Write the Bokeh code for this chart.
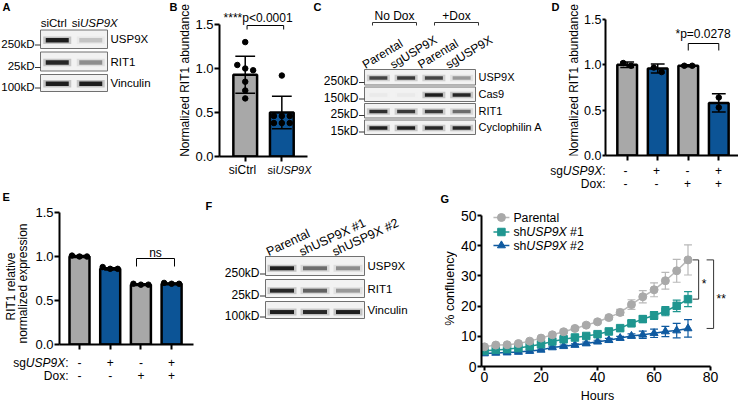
import math
from bokeh.plotting import figure
from bokeh.models import Range1d, FixedTicker, Label, PrintfTickFormatter
from bokeh.layouts import row, column
from bokeh.embed import file_html
from bokeh.resources import INLINE

# ---------------- data ----------------
A_lanes = ["siCtrl", "siUSP9X"]
A_proteins = ["USP9X", "RIT1", "Vinculin"]
A_mw = ["250kD", "25kD", "100kD"]
A_band_intensity = [[0.95, 0.18], [0.90, 0.40], [0.95, 0.95]]

B_groups = ["siCtrl", "siUSP9X"]
B_mean = [0.93, 0.50]
B_sd = [0.21, 0.185]
B_points = [[1.30, 1.04, 1.00, 0.98, 0.85, 0.75, 0.66],
            [0.92, 0.46, 0.46, 0.46, 0.38, 0.38, 0.38]]
B_stat = "****p<0.0001"

C_lanes = ["Parental", "sgUSP9X", "Parental", "sgUSP9X"]
C_conditions = ["No Dox", "+Dox"]
C_proteins = ["USP9X", "Cas9", "RIT1", "Cyclophilin A"]
C_mw = ["250kD", "150kD", "25kD", "15kD"]
C_band_intensity = [[0.75, 0.80, 0.75, 0.35], [0.03, 0.03, 0.95, 0.90],
                    [0.85, 0.80, 0.80, 0.55], [0.95, 0.95, 0.90, 0.90]]

D_sg = ["-", "+", "-", "+"]
D_dox = ["-", "-", "+", "+"]
D_mean = [1.00, 0.96, 0.99, 0.58]
D_sd = [0.03, 0.05, 0.01, 0.10]
D_points = [[0.99, 1.02], [0.97, 0.92], [0.99, 0.99], [0.64, 0.53]]
D_stat = "*p=0.0278"

E_sg = ["-", "+", "-", "+"]
E_dox = ["-", "-", "+", "+"]
E_mean = [1.00, 0.86, 0.68, 0.69]
E_sd = [0.01, 0.012, 0.01, 0.01]
E_points = [[1.00, 1.01, 1.00], [0.86, 0.88, 0.86], [0.68, 0.69, 0.68], [0.69, 0.70, 0.69]]
E_stat = "ns"

F_lanes = ["Parental", "shUSP9X #1", "shUSP9X #2"]
F_proteins = ["USP9X", "RIT1", "Vinculin"]
F_mw = ["250kD", "25kD", "100kD"]
F_band_intensity = [[0.95, 0.55, 0.40], [0.90, 0.60, 0.35], [0.95, 0.90, 0.95]]

G_hours = [0, 4, 8, 12, 16, 20, 24, 28, 32, 36, 40, 44, 48, 52, 56, 60, 64, 68, 72]
G_names = ["Parental", "shUSP9X #1", "shUSP9X #2"]
G_parental = [6.5, 7.1, 7.2, 7.6, 8.4, 9.4, 10.5, 11.5, 12.6, 13.7, 14.8, 16.2, 17.9, 20.5, 23.1, 25.4, 28.4, 31.7, 35.3]
G_parental_err = [0.4, 0.4, 0.4, 0.4, 0.5, 0.5, 0.5, 0.6, 0.6, 0.6, 0.6, 0.7, 1.0, 1.6, 2.0, 2.3, 2.8, 3.8, 5.0]
G_sh1 = [5.2, 5.5, 5.75, 6.1, 6.7, 7.4, 8.3, 9.0, 9.6, 10.1, 10.7, 11.6, 12.7, 14.3, 15.7, 16.9, 18.3, 20.1, 22.3]
G_sh1_err = [0.3, 0.3, 0.3, 0.3, 0.4, 0.4, 0.4, 0.5, 0.5, 0.5, 0.6, 0.6, 0.7, 0.8, 1.1, 1.3, 1.5, 1.9, 2.5]
G_sh2 = [4.3, 4.5, 4.6, 4.8, 5.1, 5.5, 6.3, 6.7, 7.1, 7.6, 8.2, 8.7, 9.4, 10.1, 10.5, 11.0, 11.6, 11.9, 12.6]
G_sh2_err = [0.3, 0.3, 0.3, 0.3, 0.3, 0.3, 0.4, 0.4, 0.4, 0.5, 0.5, 0.6, 0.6, 0.7, 1.2, 1.4, 1.7, 2.4, 2.9]
G_stats = ["*", "**"]

# ---------------- style ----------------
FONT = "Liberation Sans"
GRAY_BAR = "#a8a8a8"
BLUE_BAR = "#0c5496"
G_COLORS = ["#a9a9a9", "#1f9690", "#0f5aa0"]
G_LINE = ["#b8b8b8", "#1f9690", "#0f5aa0"]
G_MARK = ["circle", "square", "triangle"]

_W = {' ': 278, '!': 278, '#': 556, '%': 889, '*': 389, '+': 584, '-': 333,
      '.': 278, ':': 278, '<': 584, '=': 584}
for _c in "0123456789":
    _W[_c] = 556
_W.update(dict(zip("ABCDEFGHIJKLMNOPQRSTUVWXYZ",
                   [667, 667, 722, 722, 667, 611, 778, 722, 278, 500, 667, 556, 833,
                    722, 778, 667, 778, 722, 667, 611, 722, 667, 944, 667, 667, 611])))
_W.update(dict(zip("abcdefghijklmnopqrstuvwxyz",
                   [556, 556, 500, 556, 556, 278, 556, 556, 222, 222, 500, 222, 833,
                    556, 556, 556, 556, 333, 500, 278, 556, 500, 722, 500, 500, 500])))


def tw(s, size):
    return sum(_W.get(ch, 556) for ch in s) * size / 1000.0


def gene_pieces(s, gene="USP9X"):
    if gene not in s:
        return [(s, "normal")]
    a, b = s.split(gene, 1)
    out = []
    if a:
        out.append((a, "normal"))
    out.append((gene, "italic"))
    if b:
        out.append((b, "normal"))
    return out


def put_text(p, x, y, pieces, size, align="center", font=FONT, baseline="middle"):
    total = sum(tw(t, size) for t, _ in pieces)
    off = {"center": -total / 2.0, "right": -total, "left": 0.0}[align]
    for t, st in pieces:
        lead = len(t) - len(t.lstrip(" "))
        core = t.strip(" ")
        p.add_layout(Label(x=x, y=y, x_offset=off + tw(" " * lead, size), text=core,
                           text_font=font, text_font_size=f"{size}px", text_font_style=st,
                           text_align="left", text_baseline=baseline, text_color="black"))
        off += tw(t, size)


def rot_text(p, x, y, text, size, angle_deg, align="left", baseline="alphabetic"):
    p.add_layout(Label(x=x, y=y, text=text, angle=math.radians(angle_deg),
                       text_align=align, text_baseline=baseline, text_font=FONT,
                       text_font_size=f"{size}px", text_color="black"))


def swarm(vals, tol):
    order = sorted(range(len(vals)), key=lambda i: -vals[i])
    clusters = []
    for i in order:
        if clusters and abs(vals[clusters[-1][0]] - vals[i]) <= tol:
            clusters[-1].append(i)
        else:
            clusters.append([i])
    offs = [0.0] * len(vals)
    for c in clusters:
        n = len(c)
        for k, i in enumerate(c):
            offs[i] = k - (n - 1) / 2.0
    return offs


def ref_fig(x0, y0, w, h, mbb=0):
    """Figure whose frame maps reference pixel coordinates 1:1."""
    p = figure(width=w, height=h, x_range=Range1d(x0, x0 + w),
               y_range=Range1d(y0 + h - mbb, y0), x_axis_type=None, y_axis_type=None,
               output_backend="svg", toolbar_location=None, title=None,
               min_border_left=0, min_border_right=0, min_border_top=0, min_border_bottom=mbb)
    p.outline_line_color = None
    return p


def chart_panel(x0, y0, W, H, lw, ax_x, ax_y, mbb, xref, xval, ppx, ppy):
    hc = ax_y + mbb - y0
    L = ref_fig(x0, y0, lw, hc, mbb)
    cw = W - lw
    xs = xval + (ax_x - xref) / ppx
    xe = xval + (x0 + W - xref) / ppx
    ye = (ax_y - y0) / ppy
    C = figure(width=cw, height=hc, x_range=Range1d(xs, xe), y_range=Range1d(0, ye),
               output_backend="svg", toolbar_location=None, title=None,
               min_border_left=ax_x - (x0 + lw), min_border_right=0, min_border_top=0,
               min_border_bottom=mbb)
    C.outline_line_color = None
    C.xgrid.visible = False
    C.ygrid.visible = False
    S = ref_fig(x0, y0 + hc, W, H - hc)
    lay = column(row(L, C), S)

    def cx(rx):
        return xval + (rx - xref) / ppx

    def cy(ry):
        return (ax_y - ry) / ppy

    def rx(x):
        return xref + (x - xval) * ppx
    return L, C, S, lay, cx, cy, rx


def style_axes(p, xticks, yticks, xbounds, ybounds, ylab_size, tick_out=5,
               xlab_size=None, yfmt=None, ytick_out=None):
    xa = p.xaxis[0]
    ya = p.yaxis[0]
    for ax in (xa, ya):
        ax.axis_line_width = 2
        ax.axis_line_color = "black"
        ax.major_tick_line_width = 2
        ax.major_tick_line_color = "black"
        ax.major_tick_in = 0
        ax.major_tick_out = tick_out
        ax.minor_tick_line_color = None
        ax.major_label_text_font = FONT
        ax.major_label_text_color = "black"
        ax.major_label_standoff = 1
    if ytick_out is not None:
        ya.major_tick_out = ytick_out
    xa.ticker = FixedTicker(ticks=xticks)
    ya.ticker = FixedTicker(ticks=yticks)
    xa.bounds = xbounds
    ya.bounds = ybounds
    ya.major_label_text_font_size = ylab_size
    if yfmt:
        ya.formatter = PrintfTickFormatter(format=yfmt)
    if xlab_size is None:
        xa.major_label_text_font_size = "1px"
        xa.major_label_text_color = None
        xa.major_label_standoff = 0
    else:
        xa.major_label_text_font_size = xlab_size


def bar_chart(p, means, sds, points, colors, ppx, bar_px, cap_px, spread_px, tol):
    xs = list(range(1, len(means) + 1))
    p.vbar(x=xs, top=means, width=bar_px / ppx, fill_color=colors,
           line_color="black", line_width=2.5)
    lo = [m - s for m, s in zip(means, sds)]
    hi = [m + s for m, s in zip(means, sds)]
    cw = cap_px / ppx
    p.segment(x0=xs, y0=lo, x1=xs, y1=hi, line_color="black", line_width=1.5)
    p.segment(x0=[x - cw for x in xs], y0=hi, x1=[x + cw for x in xs], y1=hi,
              line_color="black", line_width=1.5)
    p.segment(x0=[x - cw for x in xs], y0=lo, x1=[x + cw for x in xs], y1=lo,
              line_color="black", line_width=1.5)
    for x, pts in zip(xs, points):
        offs = swarm(pts, tol)
        p.scatter([x + o * spread_px / ppx for o in offs], pts, size=5.5,
                  color="black", marker="circle")
    return xs


def draw_blot(p, box_x, rows, intensity, band_w, band_h, band_pos):
    n = len(intensity[0])
    lane_w = (box_x[1] - box_x[0]) / n
    centers = [box_x[0] + lane_w * (i + 0.5) for i in range(n)]
    for (top, bot), inten in zip(rows, intensity):
        p.quad(left=[box_x[0]], right=[box_x[1]], top=[top], bottom=[bot],
               fill_color="#f2f2f2", line_color="#707070", line_width=1)
        yb = top + band_pos * (bot - top)
        p.rect(x=centers, y=[yb] * n, width=band_w + 5, height=band_h + 3,
               fill_color="#555555", fill_alpha=[0.3 * v for v in inten], line_color=None)
        p.rect(x=centers, y=[yb] * n, width=band_w, height=band_h,
               fill_color="#151515", fill_alpha=inten, line_color=None)
    return centers


def blot_labels(p, box_x, rows, proteins, mws, prot_size, mw_size, mw_shift):
    for (top, bot), prot, mw in zip(rows, proteins, mws):
        put_text(p, box_x[1] + 3, (top + bot) / 2.0, [(prot, "normal")], prot_size,
                 align="left")
        ym = bot - mw_shift
        put_text(p, box_x[0] - 6, ym, [(mw, "normal")], mw_size, align="right")
        p.segment(x0=[box_x[0] - 5.5], y0=[ym + 1.5], x1=[box_x[0]], y1=[ym + 1.5],
                  line_color="#333333", line_width=1)


def vtitle(p, x, y, text, size):
    p.add_layout(Label(x=x, y=y, text=text, angle=math.pi / 2, text_align="center",
                       text_baseline="middle", text_font=FONT,
                       text_font_size=f"{size}px", text_color="black"))


def letter(p, x, y, s):
    put_text(p, x, y, [(s, "bold")], 11, align="left")


# ---------------- A ----------------
pA = ref_fig(0, 0, 160, 190)
A_box = (40, 107)
A_rows = [(29.5, 48), (51.5, 70.5), (74, 91)]
cA = draw_blot(pA, A_box, A_rows, A_band_intensity, 23, 4.5, 0.55)
for lane, c, d in zip(A_lanes, cA, [-3.5, 4.0]):
    put_text(pA, c + d, 22, gene_pieces(lane), 11.5)
blot_labels(pA, A_box, A_rows, A_proteins, A_mw, 11.5, 11.5, 5)
letter(pA, 2, 6, "A")

# ---------------- B ----------------
BL, BC, BS, layB, bx, by, brx = chart_panel(160, 0, 152, 190, 32, 218, 156, 8, 244, 1, 37, 88)
xsB = bar_chart(BC, B_mean, B_sd, B_points, [GRAY_BAR, BLUE_BAR], 37, 24, 10, 8, 0.07)
style_axes(BC, xsB, [0, 0.5, 1.0, 1.5], (BC.x_range.start, bx(307)), (0, 1.5), "13px",
           yfmt="%.1f")
for x, g, d, fs in zip(xsB, B_groups, [-2, 8], [12, 11]):
    put_text(BS, brx(x) + d, 169, gene_pieces(g), fs)
vtitle(BL, 184, 80, "Normalized RIT1 abundance", 12)
BC.line(x=[xsB[0] + 0.05, xsB[0] + 0.05, xsB[1] + 0.05, xsB[1] + 0.05],
        y=[by(29), by(25), by(25), by(29)], line_color="black", line_width=1)
put_text(BC, bx(257), by(17), [(B_stat, "normal")], 12)
letter(BL, 169, 6, "B")

# ---------------- C ----------------
pC = ref_fig(312, 0, 234, 190)
C_box = (364, 475)
C_rows = [(69, 84.5), (86.5, 101), (103, 117.5), (119.5, 134)]
cC = draw_blot(pC, C_box, C_rows, C_band_intensity, 18, 3.5, 0.55)
for lane, c in zip(C_lanes, cC):
    rot_text(pC, c - 15, 65, lane, 12, 31)
for cond, (l, r) in zip(C_conditions, [(372, 416), (434, 478)]):
    put_text(pC, (l + r) / 2.0, 15, [(cond, "normal")], 12)
    pC.line(x=[l, l, r, r], y=[25, 22, 22, 25], line_color="#333333", line_width=1)
blot_labels(pC, C_box, C_rows, C_proteins, C_mw, 11, 12, 4)
letter(pC, 313, 6, "C")

# ---------------- D ----------------
DL, DC, DS, layD, dx_, dy_, drx = chart_panel(546, 0, 192, 190, 35, 603, 155, 8, 625, 1, 31, 90.67)
xsD = bar_chart(DC, D_mean, D_sd, D_points, [GRAY_BAR, BLUE_BAR, GRAY_BAR, BLUE_BAR],
                31, 20, 7, 8, 0.05)
style_axes(DC, xsD, [0, 0.5, 1.0, 1.5], (DC.x_range.start, DC.x_range.end), (0, 1.5),
           "12.5px", tick_out=5, ytick_out=3, yfmt="%.1f")
for x, s, d in zip(xsD, D_sg, D_dox):
    put_text(DS, drx(x), 170, [(s, "normal")], 12)
    put_text(DS, drx(x), 183, [(d, "normal")], 12)
put_text(DS, 605, 170, gene_pieces("sgUSP9X:"), 12, align="right")
put_text(DS, 605, 183, [("Dox:", "normal")], 12, align="right")
vtitle(DL, 573.5, 80, "Normalized RIT1 abundance", 12)
DC.line(x=[xsD[2], xsD[2], xsD[3], xsD[3]], y=[dy_(50), dy_(43), dy_(43), dy_(50)],
        line_color="black", line_width=1)
put_text(DC, dx_(702), dy_(33), [(D_stat, "normal")], 12)
letter(DL, 551, 6, "D")

# ---------------- E ----------------
EL, EC, ES, layE, ex, ey, erx = chart_panel(0, 190, 200, 212, 31, 59, 344, 8, 79, 1, 30.7, 88)
xsE = bar_chart(EC, E_mean, E_sd, E_points, [GRAY_BAR, BLUE_BAR, GRAY_BAR, BLUE_BAR],
                30.7, 20, 6, 7.5, 0.03)
style_axes(EC, xsE, [0, 0.5, 1.0, 1.5], (EC.x_range.start, ex(193)), (0, 1.5), "13px",
           yfmt="%.1f")
for x, s, d in zip(xsE, E_sg, E_dox):
    put_text(ES, erx(x), 362, [(s, "normal")], 12)
    put_text(ES, erx(x), 375, [(d, "normal")], 12)
put_text(ES, 68, 362, gene_pieces("sgUSP9X:"), 12, align="right")
put_text(ES, 68, 375, [("Dox:", "normal")], 12, align="right")
vtitle(EL, 10, 286, "RIT1 relative", 12)
vtitle(EL, 22.5, 283, "normalized expression", 12)
EC.line(x=[ex(136), ex(136), ex(174), ex(174)], y=[ey(266), ey(258), ey(258), ey(266)],
        line_color="black", line_width=1)
put_text(EC, ex(155), ey(252), [(E_stat, "normal")], 12)
letter(EL, 2, 196, "E")

# ---------------- F ----------------
pF = ref_fig(200, 190, 236, 212)
F_box = (265, 364)
F_rows = [(256, 275), (279, 297), (301, 318)]
cF = draw_blot(pF, F_box, F_rows, F_band_intensity, 24, 4, 0.62)
for lane, c in zip(F_lanes, cF):
    rot_text(pF, c - 15, 252, lane, 12.5, 25)
blot_labels(pF, F_box, F_rows, F_proteins, F_mw, 11.5, 12, 3)
letter(pF, 205, 205, "F")

# ---------------- G ----------------
GL, GC, GS, layG, gx, gy, grx = chart_panel(436, 190, 302, 212, 21, 480, 366, 21, 483, 0, 2.8375, 3.02)
style_axes(GC, [0, 20, 40, 60, 80], [0, 10, 20, 30, 40, 50], (GC.x_range.start, 80), (0, 50),
           "14px", tick_out=4, xlab_size="14px")
G_vals = [G_parental, G_sh1, G_sh2]
G_errs = [G_parental_err, G_sh1_err, G_sh2_err]
cap = 1.4
for k in [2, 1, 0]:
    v, e = G_vals[k], G_errs[k]
    lo = [a - b for a, b in zip(v, e)]
    hi = [a + b for a, b in zip(v, e)]
    GC.line(G_hours, v, line_color=G_LINE[k], line_width=1.5)
    GC.segment(x0=G_hours, y0=lo, x1=G_hours, y1=hi, line_color=G_LINE[k], line_width=1.2)
    GC.segment(x0=[h - cap for h in G_hours], y0=hi, x1=[h + cap for h in G_hours], y1=hi,
               line_color=G_LINE[k], line_width=1.2)
    GC.segment(x0=[h - cap for h in G_hours], y0=lo, x1=[h + cap for h in G_hours], y1=lo,
               line_color=G_LINE[k], line_width=1.2)
    GC.scatter(G_hours, v, marker=G_MARK[k], size=8 if k != 1 else 7.5,
               fill_color=G_COLORS[k], line_color=G_COLORS[k])
for k, (name, ry) in enumerate(zip(G_names, [217, 231.5, 245])):
    GC.segment(x0=[gx(492)], y0=[gy(ry)], x1=[gx(508)], y1=[gy(ry)],
               line_color=G_LINE[k], line_width=1.5)
    GC.scatter([gx(500)], [gy(ry)], marker=G_MARK[k], size=8 if k != 1 else 7.5,
               fill_color=G_COLORS[k], line_color=G_COLORS[k])
    put_text(GC, gx(512), gy(ry), gene_pieces(name), 12.3, align="left")
last = len(G_hours) - 1
for stat, other, bxr, tick in [(G_stats[0], G_sh1, 698, 692), (G_stats[1], G_sh2, 713, 706)]:
    y1, y2 = G_parental[last], other[last]
    GC.line(x=[gx(tick), gx(bxr), gx(bxr), gx(tick)], y=[y1, y1, y2, y2],
            line_color="#333333", line_width=1)
    put_text(GC, gx(bxr + 3), (y1 + y2) / 2.0 - 1.5, [(stat, "normal")], 12, align="left")
vtitle(GL, 449, 288, "% confluency", 12.5)
put_text(GS, 597, 395, [("Hours", "normal")], 12.5)
letter(GL, 440, 198, "G")

layout = column(row(pA, layB, pC, layD), row(layE, pF, layG))
open("out.html", "w").write(file_html(layout, INLINE))
